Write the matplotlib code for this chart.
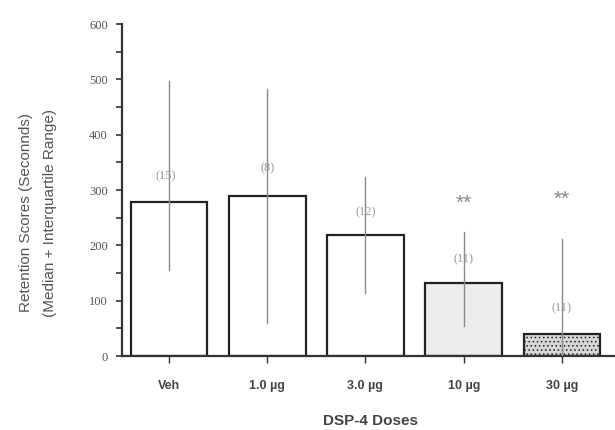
import matplotlib
matplotlib.use('Agg')
import matplotlib.pyplot as plt

doses = ['Veh', '1.0 \u00b5g', '3.0 \u00b5g', '10 \u00b5g', '30 \u00b5g']
medians = [278, 290, 218, 132, 40]
iqr_low = [156, 59, 114, 55, 0]
iqr_high = [497, 482, 323, 224, 211]
n_labels = ['(15)', '(8)', '(12)', '(11)', '(11)']
n_label_y = [325, 340, 260, 175, 86]
stars = ['', '', '', '**', '**']
star_y = [0, 0, 0, 276, 284]
fills = ['white', 'white', 'white', '#ececec', '#d6d6d6']
hatches = ['', '', '', '', '....']

plt.rcParams['hatch.color'] = '#b0b0b0'
plt.rcParams['hatch.linewidth'] = 0.6

fig = plt.figure(figsize=(6.15, 4.30), dpi=100)
ax = fig.add_axes([0.198, 0.172, 0.802, 0.772])

x = list(range(len(doses)))
for i in x:
    ax.bar(i, medians[i], width=0.78, color=fills[i], edgecolor='#222222',
           linewidth=1.6, hatch=hatches[i], zorder=2)
    ax.plot([i, i], [iqr_low[i], iqr_high[i]], color='#8a8a8a', lw=1.0, zorder=3)
    ax.text(i - 0.03 if i == 0 else i, n_label_y[i], n_labels[i], ha='center', va='center',
            fontsize=9, color='#999999', family='Liberation Serif', zorder=4)
    if stars[i]:
        ax.text(i, star_y[i], stars[i], ha='center', va='center',
                fontsize=15, color='#888888', family='Liberation Sans', zorder=4)

ax.set_xlim(-0.48, 4.54)
ax.set_ylim(0, 600)
ax.set_yticks([0, 100, 200, 300, 400, 500, 600])
ax.set_yticks(range(50, 600, 100), minor=True)
ax.set_xticks(x)
ax.set_xticklabels(doses, family='Liberation Sans', fontweight='bold',
                   fontsize=9, color='#444444')
for lab in ax.get_yticklabels():
    lab.set_family('Liberation Serif')
    lab.set_fontsize(9)
    lab.set_color('#555555')
ax.tick_params(axis='y', which='both', direction='out', length=4, width=1.2, color='#333333', pad=6)
ax.tick_params(axis='x', direction='out', length=5, width=1, color='#333333', pad=12)
ax.spines['top'].set_visible(False)
ax.spines['right'].set_visible(False)
ax.spines['left'].set_linewidth(1.6)
ax.spines['bottom'].set_linewidth(1.6)
ax.spines['left'].set_color('#333333')
ax.spines['bottom'].set_color('#333333')

fig.text(0.043, 0.505, 'Retention Scores (Seconnds)', rotation=90, ha='center', va='center',
         family='Liberation Sans', fontsize=11, color='#555555')
fig.text(0.082, 0.505, '(Median + Interquartile Range)', rotation=90, ha='center', va='center',
         family='Liberation Sans', fontsize=11, color='#555555')
fig.text(0.602, 0.02, 'DSP-4 Doses', ha='center', va='center',
         family='Liberation Sans', fontweight='bold', fontsize=11, color='#444444')

fig.savefig('out.png', dpi=100, facecolor='white')
